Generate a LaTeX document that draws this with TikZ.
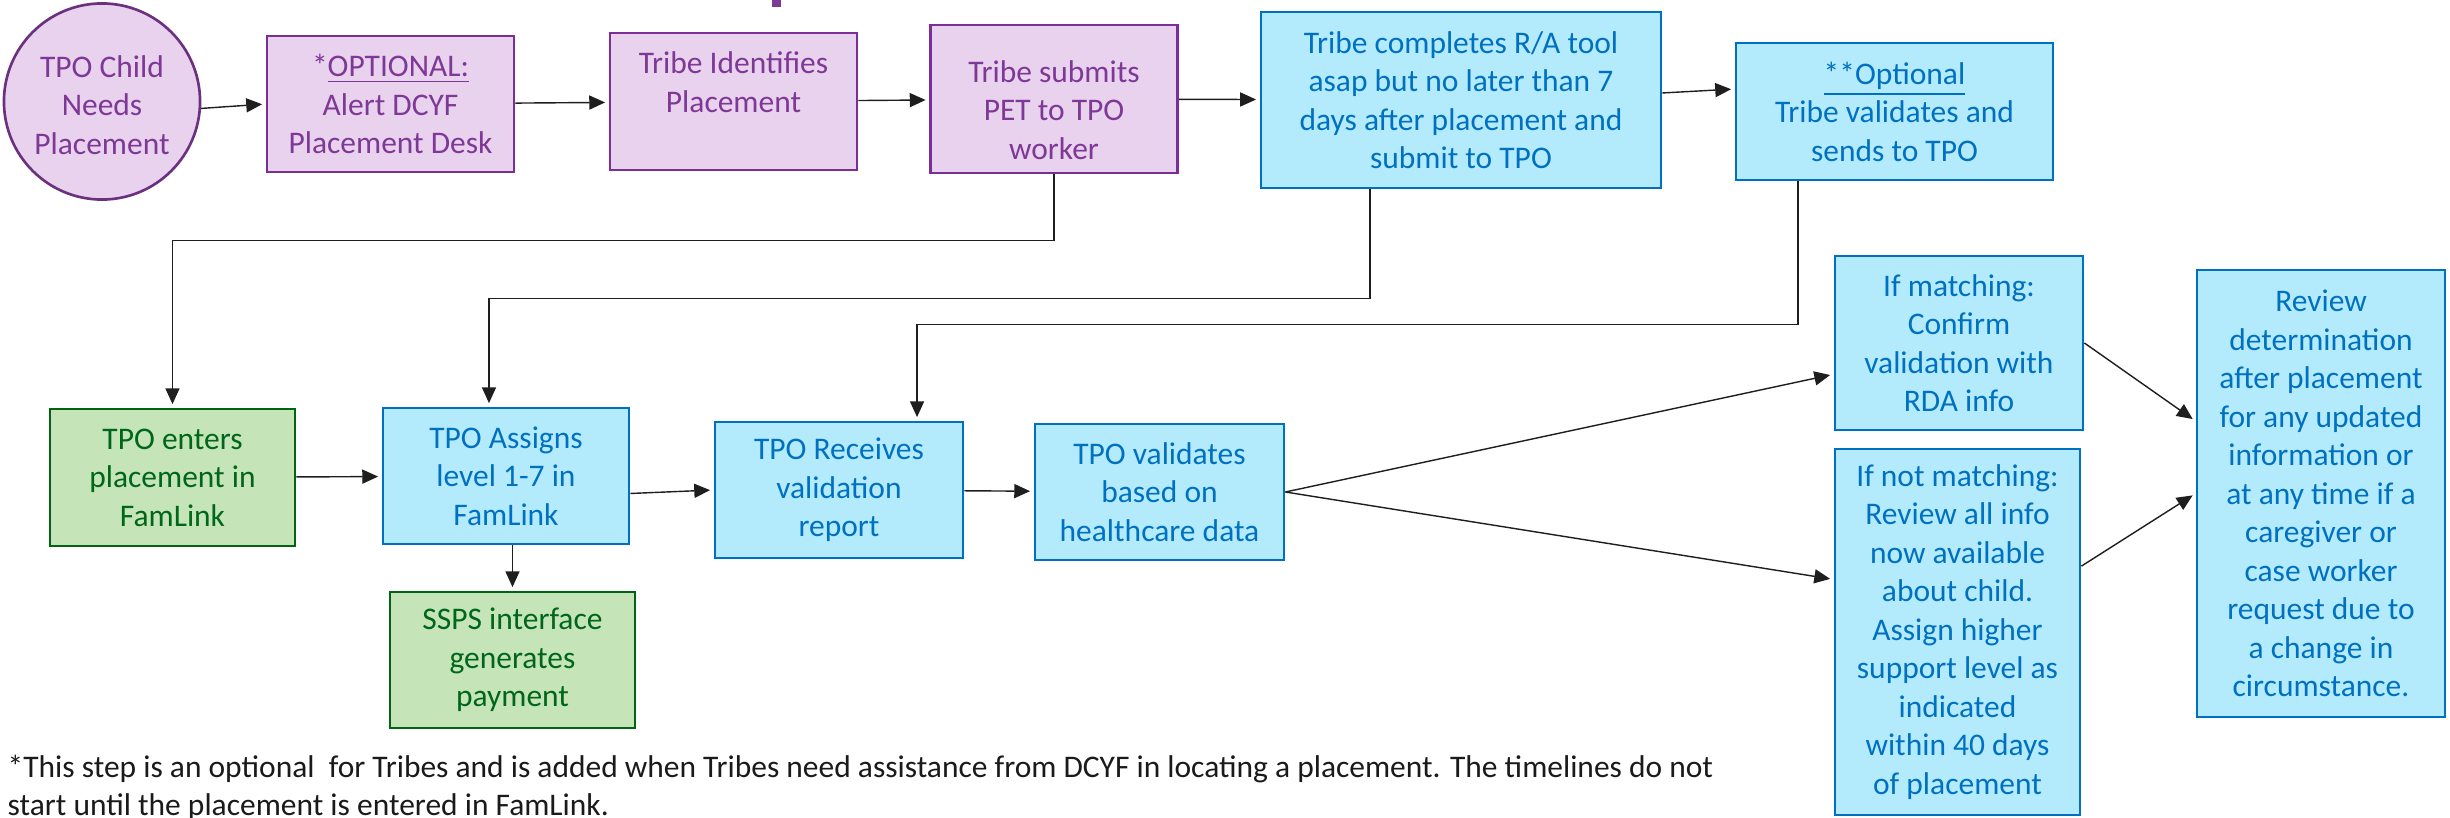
\documentclass[tikz,border=0pt]{standalone}
\usepackage{fontspec}
\setmainfont{Carlito}
\usetikzlibrary{arrows.meta}
\definecolor{pfill}{HTML}{E9D2EE}
\definecolor{pline}{HTML}{7B2E96}
\definecolor{ptext}{HTML}{7E3896}
\definecolor{bfill}{HTML}{B4EBFC}
\definecolor{bline}{HTML}{0070C0}
\definecolor{gfill}{HTML}{C5E5B8}
\definecolor{gline}{HTML}{006414}
\definecolor{gtext}{HTML}{00661A}
\definecolor{aline}{HTML}{1E1E1E}
\definecolor{ftext}{HTML}{1A1A1A}
\begin{document}
\begin{tikzpicture}[x=.01cm, y=-.01cm,
  box/.style={draw, line width=.75pt, align=center, inner sep=0pt,
    minimum width=2.47cm, minimum height=1.36cm, font=\fontsize{8.95}{10.95}\selectfont},
  purplebox/.style={box, fill=pfill, draw=pline, text=ptext},
  bluebox/.style={box, fill=bfill, draw=bline, text=bline},
  greenbox/.style={box, fill=gfill, draw=gline, text=gtext},
  flow/.style={draw=aline, line width=.4pt, -{Triangle[length=4.5pt, width=4pt]}, shorten >=1pt}]
\useasboundingbox (0,0) rectangle (2450,818);
\fill[ptext] (772,0) rectangle (781,7);

\node[purplebox, circle, minimum size=1.96cm, draw=ptext!85!black] (sid0) at (102,101.5){\rule{0pt}{.29cm}TPO Child\\Needs\\Placement};
\node[purplebox] (sid1) at (390.5,104){*\underline{OPTIONAL:}\\Alert DCYF\\Placement Desk};
\node[purplebox, minimum height=1.37cm] (sid2) at (733.5,101.5){Tribe Identifies\\Placement\\\mbox{}};
\node[purplebox, minimum height=1.48cm] (sid3) at (1054,99){\rule{0pt}{.44cm}Tribe submits\\PET to TPO\\worker};
\node[bluebox, minimum width=4cm, minimum height=1.76cm] (sid4) at (1461,100){Tribe completes R/A tool\\asap but no later than 7\\days after placement and\\submit to TPO};
\node[bluebox, minimum width=3.17cm, minimum height=1.37cm] (sid5) at (1894.5,111.5){\underline{**Optional}\\Tribe validates and\\sends to TPO};
\draw[flow](sid0.-4) -- (sid1.west);
\draw[flow](sid1) -- (sid2);
\draw[flow](sid2) -- (sid3);
\draw[flow](sid3) -- (sid4);
\draw[flow](sid4.2) -- (sid5.172);

\node[greenbox, minimum width=2.45cm, minimum height=1.37cm] (sid6) at (172.5,477.5){TPO enters\\placement in\\FamLink};
\node[bluebox, minimum width=2.46cm] (sid7) at (506,476){TPO Assigns\\level 1-7 in\\FamLink};
\node[bluebox, minimum width=2.48cm] (sid8) at (839,490){TPO Receives\\validation\\report};
\node[bluebox, minimum width=2.49cm] (sid9) at (1159.5,492){TPO validates\\based on\\healthcare data};
\node[greenbox, minimum width=2.45cm] (sid10) at (512.5,660){SSPS interface\\generates\\payment};
\draw[flow](sid3.south) -- ++(0,66) -| (sid6.north);
\draw[flow]([xshift=-.91cm]sid4.south) -- ++(0,109) -| ([xshift=-.17cm]sid7.north);
\draw[flow]([xshift=-.965cm]sid5.south) -- ++(0,143) -| ([xshift=.78cm]sid8.north);
\draw[flow](sid6) -- (sid7);
\draw[flow](sid7.-8) -- (sid8.west);
\draw[flow](sid8) -- (sid9);
\draw[flow](sid10.north |- sid7.south) -- (sid10.north);

\node[bluebox, minimum width=2.48cm, minimum height=1.74cm] (sid11) at (1959,343){If matching:\\Confirm\\validation with\\RDA info};
\node[bluebox, minimum width=2.45cm, minimum height=3.66cm] (sid12) at (1957.5,632){If not matching:\\Review all info\\now available\\about child.\\Assign higher\\support level as\\indicated\\within 40 days\\of placement};
\node[bluebox, minimum width=2.48cm, minimum height=4.47cm] (sid13) at (2321,493.5){Review\\determination\\after placement\\for any updated\\information or\\at any time if a\\caregiver or\\case worker\\request due to\\a change in\\circumstance.};
\draw[flow](sid9.east) -- (sid11.194);
\draw[flow](sid9.east) -- (sid12.157);
\draw[flow](sid11.east) -- (sid13.150);
\draw[flow](sid12.28) -- (sid13.west);

\node[anchor=west, align=left, inner sep=0pt, text=ftext, font=\fontsize{8.95}{10.8}\selectfont] (note) at (7,788){*This step is an optional\ \ for Tribes and is added when Tribes need assistance from DCYF in locating a placement. The timelines do not\\start until the placement is entered in FamLink.};
\end{tikzpicture}
\end{document}
